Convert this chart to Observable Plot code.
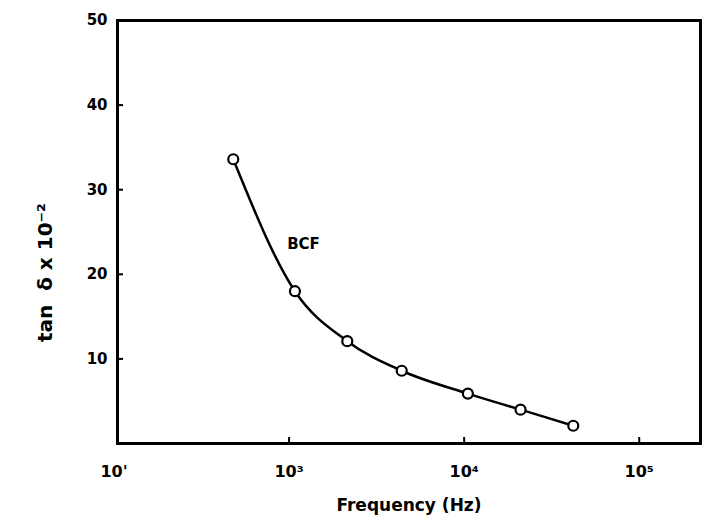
<!DOCTYPE html>
<html>
<head>
<meta charset="utf-8">
<script src="https://cdn.jsdelivr.net/npm/d3@7"></script>
<script src="https://cdn.jsdelivr.net/npm/@observablehq/plot@0.6"></script>
<style>
  html, body { margin: 0; padding: 0; background: #fff; }
  #chart svg { display: block; }
</style>
</head>
<body>
<div id="chart"></div>
<script>
// Frequency (Hz) and tan δ (×10⁻²)
const freq = [480, 1080, 2150, 4400, 10500, 21000, 42000];
const tanDelta = [33.6, 18.0, 12.1, 8.6, 5.9, 4.0, 2.1];
const seriesLabel = "BCF";
const labelPos = {f: 975, v: 23.6};

const xTicks = [100, 1000, 10000, 100000];
const xTickLabels = ["10'", "10³", "10⁴", "10⁵"];
const xTickMarks = [1000, 10000, 100000];
const yTicks = [10, 20, 30, 40, 50];
const xTitle = "Frequency (Hz)";
const yTitle = "tan  δ x 10⁻²";
const yTitlePos = 20.2;

const data = freq.map((f, i) => ({f, v: tanDelta[i]}));

const font = "DejaVu Sans, sans-serif";
const W = 704, H = 529, ML = 117, MR = 4, MT = 20, MB = 86;
const tickLen = 6;

const chart = Plot.plot({
  width: W,
  height: H,
  marginLeft: ML,
  marginRight: MR,
  marginTop: MT,
  marginBottom: MB,
  style: {fontFamily: font, background: "white", color: "black"},
  x: {type: "log", domain: [Math.pow(10, 2.02), Math.pow(10, 5.35)]},
  y: {domain: [0, 50]},
  marks: [
    Plot.frame({stroke: "black", strokeWidth: 3}),
    Plot.tickX(xTickMarks, {x: d => d, stroke: "black", strokeWidth: 2, insetTop: (H - MT - MB) - tickLen}),
    Plot.tickY(yTicks, {y: d => d, stroke: "black", strokeWidth: 2, insetRight: (W - ML - MR) - tickLen}),
    Plot.axisX({
      ticks: xTicks,
      tickFormat: d => xTickLabels[xTicks.indexOf(d)],
      tickSize: 0,
      tickPadding: 22,
      fontSize: 16,
      fontWeight: "bold",
      label: null
    }),
    Plot.axisY({
      ticks: yTicks,
      tickSize: 0,
      tickPadding: 10,
      fontSize: 15,
      fontWeight: "bold",
      label: null
    }),
    Plot.text([xTitle], {
      frameAnchor: "bottom", dy: 67, text: d => d,
      fontSize: 17, fontWeight: "bold", style: "letter-spacing: 2px"
    }),
    Plot.text([yTitle], {
      y: () => yTitlePos, frameAnchor: "left", dx: -72, rotate: -90, text: d => d,
      textAnchor: "middle",
      fontSize: 20, fontWeight: "bold", style: "letter-spacing: 2.5px"
    }),
    Plot.line(data, {x: "f", y: "v", curve: "monotone-x", stroke: "black", strokeWidth: 2.5}),
    Plot.dot(data, {x: "f", y: "v", r: 5, stroke: "black", strokeWidth: 2.2, fill: "white"}),
    Plot.text([labelPos], {x: "f", y: "v", text: () => seriesLabel, fontSize: 15, fontWeight: "bold", textAnchor: "start"})
  ]
});

document.getElementById("chart").appendChild(chart);
</script>
</body>
</html>
